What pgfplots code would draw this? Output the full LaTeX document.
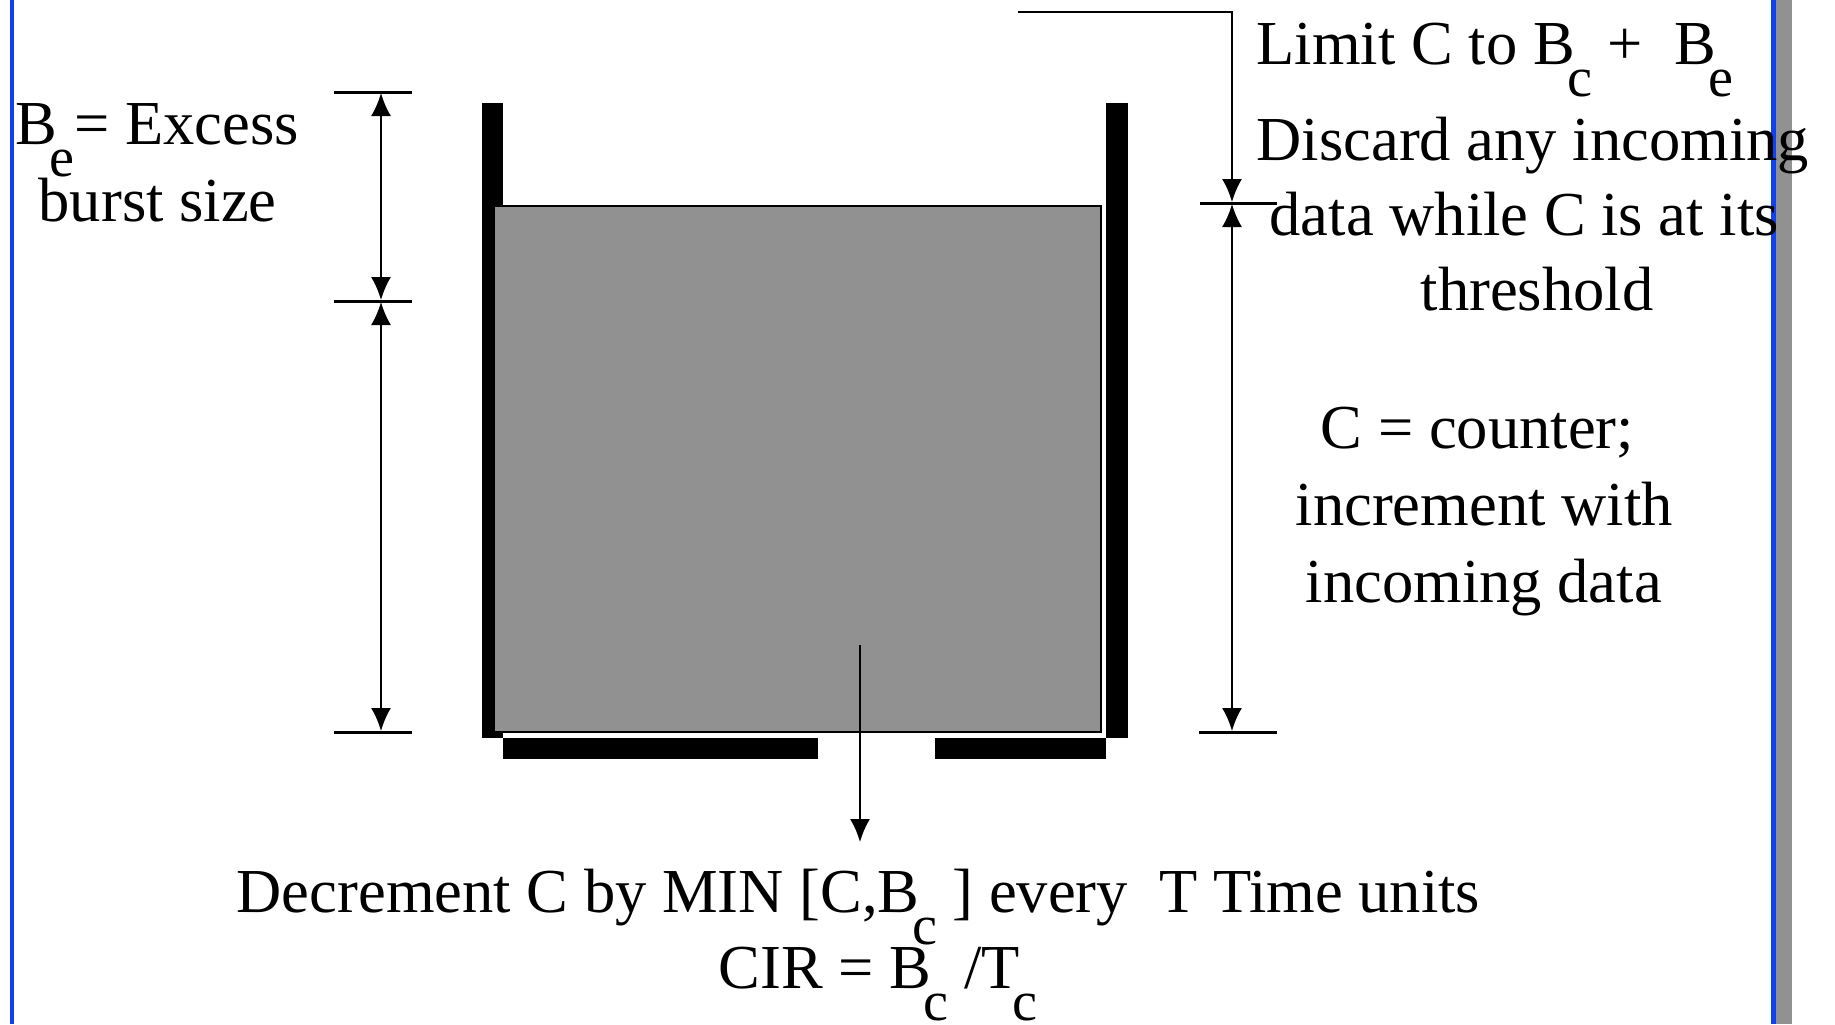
\documentclass[border=0pt]{standalone}
\usepackage{pgfplots}
\pgfplotsset{compat=1.18}
\usepackage{fontspec}
\setmainfont{Liberation Serif}
\usetikzlibrary{arrows.meta}

\definecolor{slideblue}{RGB}{16,64,240}
\definecolor{fillgray}{RGB}{145,145,145}
\newcommand\sub[1]{\kern-0.12em\raisebox{-3.2mm}{\fontsize{16pt}{16pt}\selectfont #1}}

\begin{document}
\begin{tikzpicture}
\begin{axis}[
  name=ax,
  width=18.35cm, height=10.24cm, scale only axis,
  xmin=0, xmax=1835, ymin=0, ymax=1024,
  y dir=reverse,
  hide axis, clip=false,
  every axis plot/.append style={mark=none},
  nodes={inner sep=0pt, font=\fontsize{17.8pt}{21pt}\selectfont},
]
% slide frame lines
\addplot[fill=slideblue, draw=none] coordinates {(10,0)(14,0)(14,1024)(10,1024)};
\addplot[fill=fillgray, draw=none] coordinates {(1776,0)(1792,0)(1792,1024)(1776,1024)};
\addplot[fill=slideblue, draw=none] coordinates {(1771,0)(1776,0)(1776,1024)(1771,1024)};

% bucket walls and contents
\addplot[fill=black, draw=none] coordinates {(482,103)(503,103)(503,738)(482,738)};
\addplot[fill=black, draw=none] coordinates {(1106,103)(1128,103)(1128,738)(1106,738)};
\addplot[fill=black, draw=none] coordinates {(503,738)(818,738)(818,759)(503,759)};
\addplot[fill=black, draw=none] coordinates {(935,738)(1106,738)(1106,759)(935,759)};
\addplot[fill=fillgray, draw=black, line width=0.2mm] coordinates {(495,206)(1101,206)(1101,732)(495,732)};

% outflow arrow
\addplot[line width=0.2mm, -{Latex[length=2.3mm,width=2mm]}] coordinates {(860,645)(860,842)};

% left dimension
\addplot[line width=0.3mm] coordinates {(334,92)(412,92)};
\addplot[line width=0.3mm] coordinates {(334,301)(412,301)};
\addplot[line width=0.3mm] coordinates {(334,732)(412,732)};
\addplot[line width=0.2mm, {Latex[length=2.3mm,width=2mm]}-{Latex[length=2.3mm,width=2mm]}] coordinates {(381,93)(381,300)};
\addplot[line width=0.2mm, {Latex[length=2.3mm,width=2mm]}-{Latex[length=2.3mm,width=2mm]}] coordinates {(381,302)(381,731)};

% right dimension
\addplot[line width=0.2mm, -{Latex[length=2.3mm,width=2mm]}] coordinates {(1018,12)(1232,12)(1232,202)};
\addplot[line width=0.3mm] coordinates {(1200,203)(1277,203)};
\addplot[line width=0.3mm] coordinates {(1199,732)(1277,732)};
\addplot[line width=0.2mm, {Latex[length=2.3mm,width=2mm]}-{Latex[length=2.3mm,width=2mm]}] coordinates {(1232,204)(1232,731)};

% texts
\node[anchor=base west] at (axis cs:14.5,144) {B\sub{e}= Excess};
\node[anchor=base west] at (axis cs:38,221) {burst size};
\node[anchor=base west] at (axis cs:1256,64) {Limit C to B\sub{c} +\ \ B\sub{e}};
\node[anchor=base west] at (axis cs:1256,160) {Discard any incoming};
\node[anchor=base west] at (axis cs:1269,235) {data while C is at its};
\node[anchor=base west] at (axis cs:1420,310) {threshold};
\node[anchor=base west] at (axis cs:1320,448) {C = counter;};
\node[anchor=base west] at (axis cs:1295,525) {increment with};
\node[anchor=base west] at (axis cs:1305,602) {incoming data};
\node[anchor=base west] at (axis cs:236,912) {Decrement C by MIN [C,B\sub{c} ] every\ \ T Time units};
\node[anchor=base west] at (axis cs:718,988) {CIR = B\sub{c} /T\sub{c}};
\end{axis}
\pgfresetboundingbox
\path (ax.south west) rectangle (ax.north east);
\end{tikzpicture}
\end{document}
